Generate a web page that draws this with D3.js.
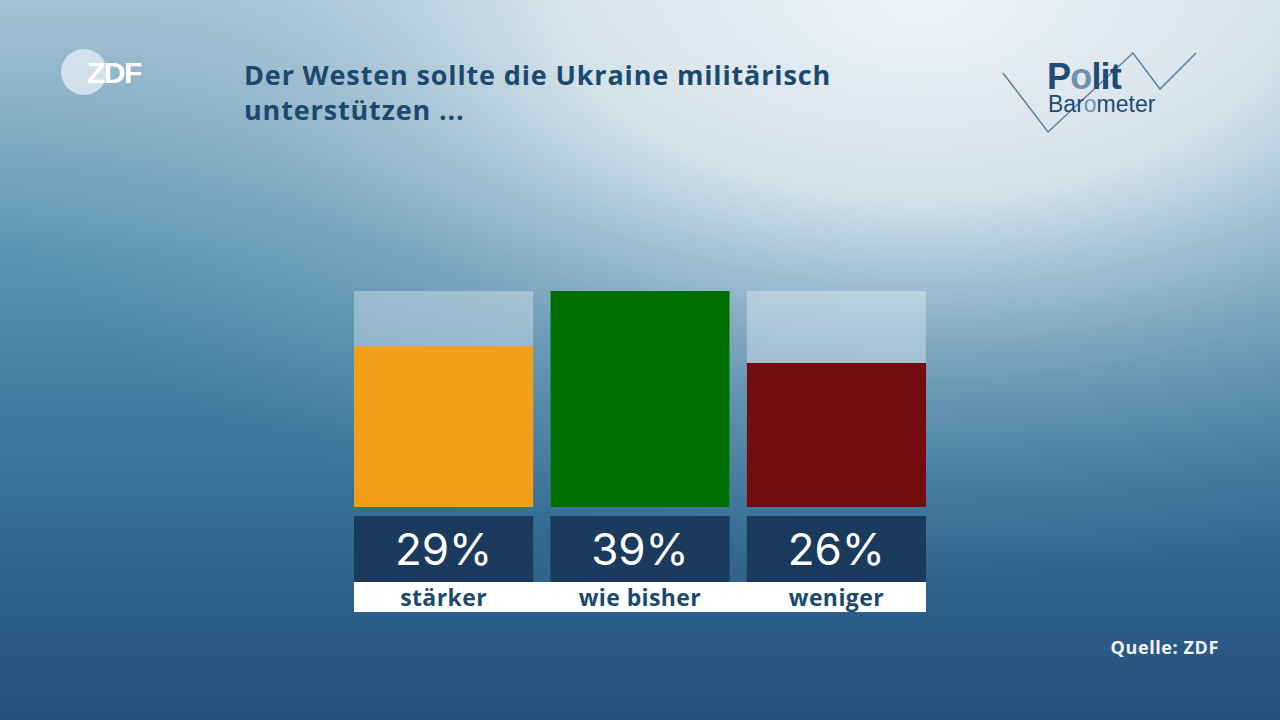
<!DOCTYPE html>
<html><head><meta charset="utf-8">
<script src="https://cdn.jsdelivr.net/npm/d3@7"></script>
<style>html,body{margin:0;padding:0;overflow:hidden;background:#2a5e86}</style>
</head><body>
<script>
const categories = ["stärker", "wie bisher", "weniger"];
const values = [29, 39, 26];
const colors = ["#f2a01a", "#007000", "#720c0f"];
const title = ["Der Westen sollte die Ukraine militärisch", "unterstützen ..."];
const source = "Quelle: ZDF";

const W = 1280, H = 720;
const svg = d3.select("body").append("svg").attr("width", W).attr("height", H);
const defs = svg.append("defs");

const lg = defs.append("linearGradient").attr("id","bg").attr("x1",0).attr("y1",0).attr("x2",0).attr("y2",1);
[[0,"#a9c6d6"],[0.35,"#5a93b2"],[0.65,"#3a7399"],[1,"#234f7c"]].forEach(([o,c])=>lg.append("stop").attr("offset",o).attr("stop-color",c));
svg.append("rect").attr("width",W).attr("height",H).attr("fill","url(#bg)");

const rg = defs.append("radialGradient").attr("id","glow").attr("cx",0.72).attr("cy",0.0).attr("r",0.8);
[[0,"#eef2f5",1],[0.35,"#dde7ed",0.9],[0.7,"#9fbfd0",0.35],[1,"#7fa9c0",0]].forEach(([o,c,a])=>rg.append("stop").attr("offset",o).attr("stop-color",c).attr("stop-opacity",a));
svg.append("rect").attr("width",W).attr("height",H).attr("fill","url(#glow)");

// ZDF logo
svg.append("circle").attr("cx",84).attr("cy",72).attr("r",23).attr("fill","#dde8ee").attr("opacity",0.85);
svg.append("text").attr("x",87).attr("y",83).attr("font-family","Liberation Sans, sans-serif").attr("font-weight","bold")
  .attr("font-size",30).attr("fill","#ffffff").attr("letter-spacing",-1.5).text("ZDF");

// Title
svg.append("g").selectAll("text").data(title).join("text")
  .attr("x",244).attr("y",(d,i)=>85+i*35)
  .attr("font-family","Open Sans, sans-serif").attr("font-weight",700).attr("font-size",27)
  .attr("letter-spacing",0.85)
  .attr("fill","#1b4a70").text(d=>d);

// Politbarometer logo
svg.append("polyline").attr("points","1003,73 1048,132 1133,53 1160,89 1196,53")
  .attr("fill","none").attr("stroke","#5c819e").attr("stroke-width",1.5);
const p1 = svg.append("text").attr("x",1047).attr("y",89).attr("font-family","Liberation Sans, sans-serif")
  .attr("font-weight","bold").attr("font-size",36).attr("fill","#1d4d77").attr("letter-spacing",-0.8);
p1.append("tspan").text("P");
p1.append("tspan").attr("fill","#6f92ae").text("o");
p1.append("tspan").text("lit");
const p2 = svg.append("text").attr("x",1048).attr("y",112).attr("font-family","Liberation Sans, sans-serif")
  .attr("font-size",23).attr("fill","#1d4d77");
p2.append("tspan").text("Bar");
p2.append("tspan").attr("fill","#6f92ae").text("o");
p2.append("tspan").text("meter");

// Bars
const x = d3.scaleBand().domain(categories).range([354, 926]).paddingInner(0.088).paddingOuter(0);
const y = d3.scaleLinear().domain([0, d3.max(values)]).range([507, 291]);
const g = svg.append("g");
g.selectAll(".track").data(categories).join("rect")
  .attr("x",d=>x(d)).attr("y",y.range()[1]).attr("width",x.bandwidth()).attr("height",y.range()[0]-y.range()[1])
  .attr("fill","#ffffff").attr("opacity",0.33);
g.selectAll(".bar").data(values).join("rect")
  .attr("x",(d,i)=>x(categories[i])).attr("y",d=>y(d)).attr("width",x.bandwidth()).attr("height",d=>y(0)-y(d))
  .attr("fill",(d,i)=>colors[i]);
g.selectAll(".vbox").data(values).join("rect")
  .attr("x",(d,i)=>x(categories[i])).attr("y",516).attr("width",x.bandwidth()).attr("height",66)
  .attr("fill","#1b3b5e");
g.selectAll(".vtxt").data(values).join("text")
  .attr("x",(d,i)=>x(categories[i])+x.bandwidth()/2).attr("y",565).attr("text-anchor","middle")
  .attr("font-family","Inter, sans-serif").attr("font-weight",400).attr("font-size",44).attr("fill","#ffffff").text(d=>d+"%");
g.append("rect").attr("x",354).attr("y",582).attr("width",926-354).attr("height",30).attr("fill","#ffffff");
g.selectAll(".ltxt").data(categories).join("text")
  .attr("x",d=>x(d)+x.bandwidth()/2).attr("y",606).attr("text-anchor","middle")
  .attr("font-family","Open Sans, sans-serif").attr("font-weight",700).attr("font-size",23)
  .attr("letter-spacing",0.4).attr("fill","#1b4a70").text(d=>d);

svg.append("text").attr("x",1219).attr("y",654).attr("text-anchor","end")
  .attr("font-family","Open Sans, sans-serif").attr("font-weight",700).attr("font-size",18)
  .attr("letter-spacing",0.6).attr("fill","#eef3f7").text(source);
</script>
</body></html>
